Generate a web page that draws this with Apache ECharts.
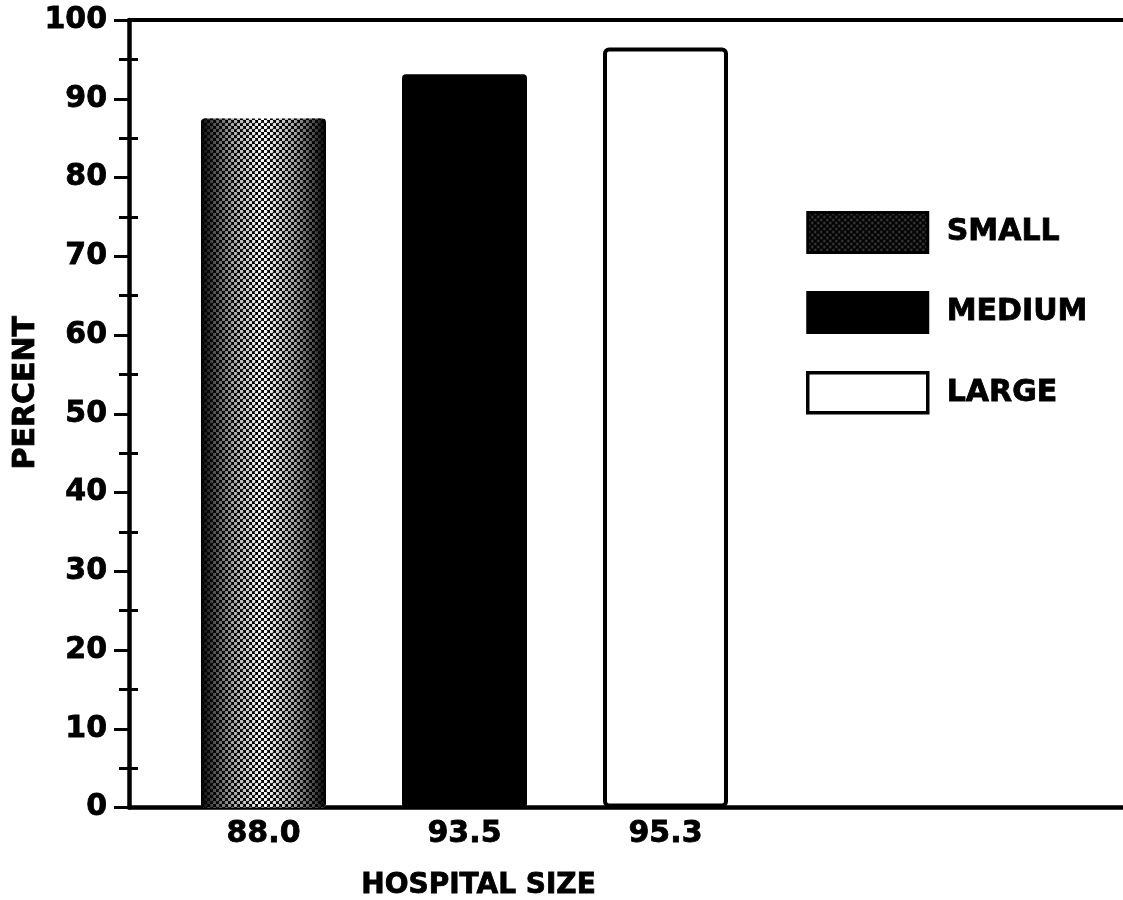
<!DOCTYPE html>
<html>
<head>
<meta charset="utf-8">
<script src="https://cdn.jsdelivr.net/npm/echarts@6/dist/echarts.min.js"></script>
<style>
html,body{margin:0;padding:0;background:#fff;}
#chart{width:1123px;height:900px;}
</style>
</head>
<body>
<div id="chart"></div>
<script>
// ---- data ----
const categories = ['88.0', '93.5', '95.3'];
const seriesNames = ['SMALL', 'MEDIUM', 'LARGE'];
const barValues = [87.5, 93.1, 96.5];
const minorTickValues = [5, 15, 25, 35, 45, 55, 65, 75, 85, 95];
const yAxisTitle = 'PERCENT';
const xAxisTitle = 'HOSPITAL SIZE';

// ---- styling helpers ----
const FONT = 'DejaVu Sans';
function dotCanvas(bg, dot, r) {
  const c = document.createElement('canvas');
  c.width = 6; c.height = 6;
  const g = c.getContext('2d');
  g.fillStyle = bg; g.fillRect(0, 0, 6, 6);
  g.fillStyle = dot;
  [[1.5, 1.5], [4.5, 4.5]].forEach(function (p) {
    g.beginPath(); g.arc(p[0], p[1], r, 0, Math.PI * 2); g.fill();
  });
  return c;
}
const barPattern = { image: dotCanvas('#000', '#fff', 1.8), repeat: 'repeat' };
const legendPattern = { image: dotCanvas('#000', 'rgba(255,255,255,0.28)', 1.2), repeat: 'repeat' };
const edgeShade = {
  type: 'linear', x: 0, y: 0, x2: 1, y2: 0,
  colorStops: [
    { offset: 0, color: 'rgba(0,0,0,1)' },
    { offset: 0.08, color: 'rgba(0,0,0,0.75)' },
    { offset: 0.25, color: 'rgba(0,0,0,0.35)' },
    { offset: 0.5, color: 'rgba(0,0,0,0.0)' },
    { offset: 0.75, color: 'rgba(0,0,0,0.35)' },
    { offset: 0.92, color: 'rgba(0,0,0,0.75)' },
    { offset: 1, color: 'rgba(0,0,0,1)' }
  ]
};
const barStyles = [
  { color: barPattern, borderRadius: 4 },
  { color: '#000', borderRadius: 4 },
  { color: '#fff', borderColor: '#000', borderWidth: 4, borderRadius: 4 }
];
const legendStyles = [
  { color: legendPattern, borderColor: '#000', borderWidth: 3 },
  { color: '#000', borderColor: '#000', borderWidth: 3 },
  { color: '#fff', borderColor: '#000', borderWidth: 3.5 }
];

function onlyAt(i) {
  return categories.map(function (_, j) { return j === i ? barValues[i] : '-'; });
}

const series = seriesNames.map(function (name, i) {
  return {
    name: name, type: 'bar', xAxisIndex: 1, yAxisIndex: 2,
    data: onlyAt(i), barWidth: 125, barGap: '-100%',
    itemStyle: barStyles[i], silent: true, z: 2
  };
});
// shading overlay for the halftone bar
series.push({
  type: 'bar', xAxisIndex: 1, yAxisIndex: 2,
  data: onlyAt(0), barWidth: 125, barGap: '-100%',
  itemStyle: { color: edgeShade, borderRadius: 4 }, silent: true, z: 3
});

const labelFont = { fontFamily: FONT, fontWeight: 'bold', color: '#000',
  textBorderColor: '#000', textBorderWidth: 0.8 };

const option = {
  backgroundColor: '#fff',
  animation: false,
  grid: [
    { left: 129, right: 0, top: 20, bottom: 92.5, outerBoundsMode: 'none', containLabel: false },
    { left: 163, right: 357, top: 20, bottom: 92.5, outerBoundsMode: 'none', containLabel: false }
  ],
  xAxis: [
    { type: 'value', gridIndex: 0, min: 0, max: 1, position: 'bottom',
      axisLine: { show: true, onZero: false, lineStyle: { color: '#000', width: 4.5 } },
      axisTick: { show: false }, axisLabel: { show: false }, splitLine: { show: false } },
    { type: 'category', gridIndex: 1, data: categories,
      axisLine: { show: false, onZero: false }, axisTick: { show: false },
      axisLabel: Object.assign({ fontSize: 30, margin: 12 }, labelFont),
      name: xAxisTitle, nameLocation: 'middle', nameGap: 64, nameMoveOverlap: false,
      nameTextStyle: Object.assign({ fontSize: 28, padding: [0, 0, 0, 28] }, labelFont) },
    { type: 'value', gridIndex: 0, min: 0, max: 1, position: 'top',
      axisLine: { show: true, onZero: false, lineStyle: { color: '#000', width: 4 } },
      axisTick: { show: false }, axisLabel: { show: false }, splitLine: { show: false } }
  ],
  yAxis: [
    { type: 'value', gridIndex: 0, min: 0, max: 100, interval: 10, position: 'left',
      axisLine: { show: true, onZero: false, lineStyle: { color: '#000', width: 4.5 } },
      axisTick: { show: true, length: 15, lineStyle: { color: '#000', width: 3 } },
      minorTick: { show: true, splitNumber: 2, length: 10, lineStyle: { color: '#000', width: 3 } },
      axisLabel: Object.assign({ fontSize: 30, margin: 22 }, labelFont),
      splitLine: { show: false }, minorSplitLine: { show: false },
      name: yAxisTitle, nameLocation: 'middle', nameRotate: 90, nameGap: 88, nameMoveOverlap: false,
      nameTextStyle: Object.assign({ fontSize: 30, padding: [0, 0, 0, 42] }, labelFont) },
    { type: 'value', gridIndex: 0, min: 0, max: 100, interval: 10, position: 'left',
      axisLine: { show: false, onZero: false },
      axisTick: { show: true, inside: true, length: 9, customValues: minorTickValues,
        lineStyle: { color: '#000', width: 3 } },
      axisLabel: { show: false }, splitLine: { show: false } },
    { type: 'value', gridIndex: 1, min: 0, max: 100, show: false }
  ],
  legend: {
    orient: 'vertical', left: 806, top: 211, padding: 0,
    itemWidth: 120, itemHeight: 40, itemGap: 37, icon: 'rect',
    selectedMode: false,
    textStyle: Object.assign({ fontSize: 30, padding: [0, 0, 0, 14] }, labelFont),
    data: seriesNames.map(function (n, i) { return { name: n, itemStyle: legendStyles[i] }; })
  },
  series: series
};

const chart = echarts.init(document.getElementById('chart'), null, { renderer: 'canvas' });
chart.setOption(option);
</script>
</body>
</html>
